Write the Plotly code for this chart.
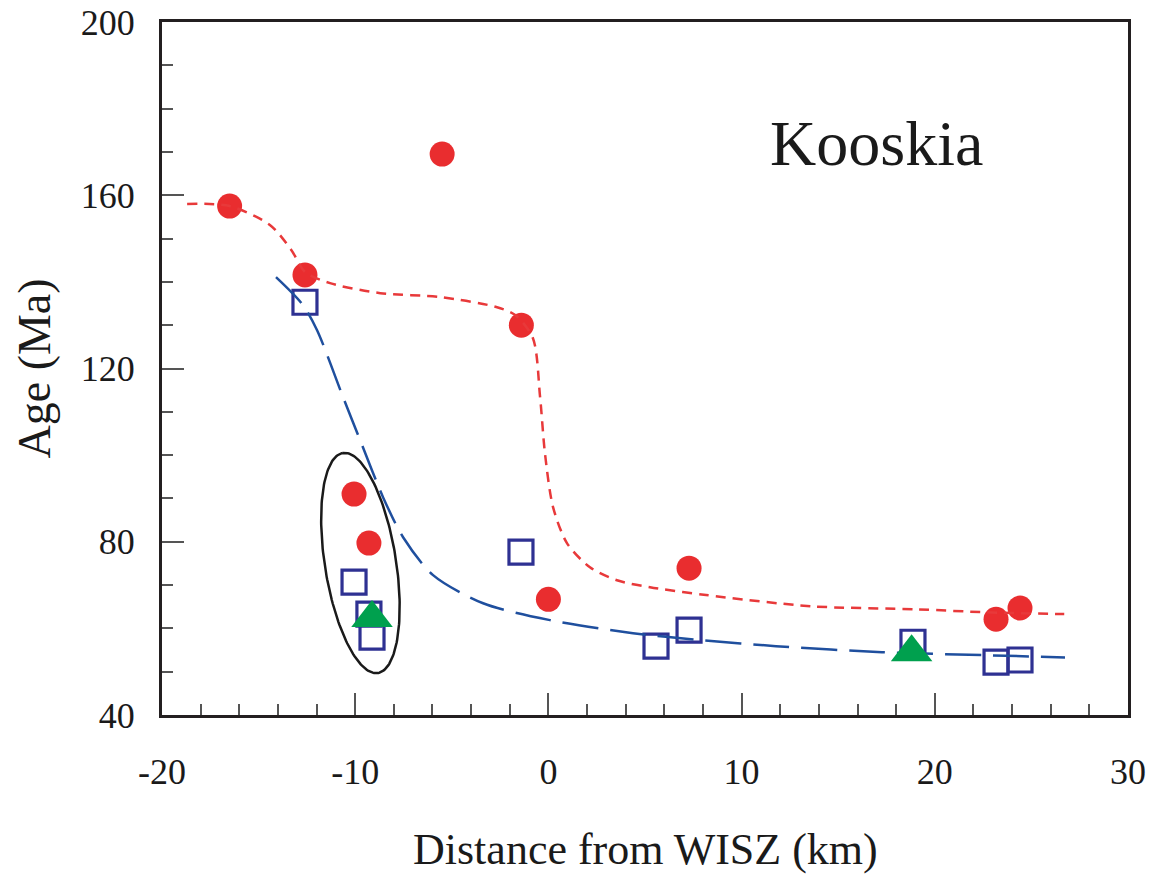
import numpy as np
import plotly.graph_objects as go

# ---- data ----
red_x = [-16.5, -12.6, -5.5, -1.4, -10.06, -9.29, 0.0, 7.28, 23.17, 24.41]
red_y = [157.5, 141.6, 169.5, 130.0, 91.0, 79.7, 66.7, 73.9, 62.1, 64.7]

sq_x = [-12.6, -10.06, -9.29, -9.13, -1.42, 5.57, 7.28, 18.87, 23.17, 24.41]
sq_y = [135.3, 70.7, 63.3, 58.0, 77.6, 55.9, 59.6, 56.8, 52.2, 52.7]

tri_x = [-9.13, 18.8]
tri_y = [62.4, 54.5]

red_curve_x = [-18.7, -16.5, -14.4, -13.3, -12.6, -11.3, -8.7, -5.6, -2.7, -1.7, -0.8,
               -0.43, -0.18, 0.24, 0.96, 2.15, 3.55, 5.26, 8.16, 13.6, 19.1, 22.7, 26.7]
red_curve_y = [158.0, 157.5, 153.1, 147.3, 142.3, 139.7, 137.4, 136.5, 134.2, 132.3, 127.0,
               113.4, 100.5, 88.0, 79.7, 74.1, 71.1, 69.5, 67.7, 65.1, 64.4, 63.7, 63.3]

blue_curve_x = [-14.1, -12.75, -11.98, -10.63, -9.6, -8.56, -7.53, -5.97, -3.38, 0.08,
                4.38, 7.85, 11.78, 17.27, 22.7, 26.74]
blue_curve_y = [141.1, 134.9, 128.9, 113.4, 101.8, 90.3, 81.1, 72.3, 65.8, 61.9,
                58.9, 57.3, 55.9, 54.5, 53.8, 53.3]

# ellipse outline (annotation shape): centre and two semi-axis vectors in data units
ell_center = (-9.73, 75.1)
ell_major = (-0.905, 25.4)
ell_minor = (1.82, 1.29)

x_ticks = [-20, -10, 0, 10, 20, 30]
y_ticks = [40, 80, 120, 160, 200]

FONT = "Liberation Serif"
AX = "#231f20"

t = np.linspace(0, 2 * np.pi, 200)
ell_x = ell_center[0] + np.cos(t) * ell_major[0] + np.sin(t) * ell_minor[0]
ell_y = ell_center[1] + np.cos(t) * ell_major[1] + np.sin(t) * ell_minor[1]

fig = go.Figure()
fig.add_trace(go.Scatter(x=ell_x, y=ell_y, mode="lines",
                         line=dict(color="#1a1a1a", width=2.5), hoverinfo="skip"))
fig.add_trace(go.Scatter(x=sq_x, y=sq_y, mode="markers",
                         marker=dict(symbol="square-open", size=24, color="#2e3192",
                                     line=dict(width=3.2, color="#2e3192"))))
fig.add_trace(go.Scatter(x=red_x, y=red_y, mode="markers",
                         marker=dict(symbol="circle", size=25, color="#e92d2f",
                                     line=dict(width=0))))
fig.add_trace(go.Scatter(x=red_curve_x, y=red_curve_y, mode="lines",
                         line=dict(color="#e8393a", width=2.5, dash="10px,7px",
                                   shape="spline", smoothing=0.8)))
fig.add_trace(go.Scatter(x=blue_curve_x, y=blue_curve_y, mode="lines",
                         line=dict(color="#1f4f9e", width=2.5, dash="36px,12px",
                                   shape="spline", smoothing=0.8)))
fig.add_trace(go.Scatter(x=tri_x, y=tri_y, mode="markers",
                         marker=dict(symbol="triangle-up", size=36, color="#00a04e",
                                     line=dict(width=0))))

fig.add_annotation(x=17.0, y=172.0, xref="x", yref="y", text="Kooskia", showarrow=False,
                   font=dict(family=FONT, size=64, color="#1a1a1a"))
fig.add_annotation(x=0.5, y=0, xref="paper", yref="paper", yanchor="middle", yshift=-134,
                   text="Distance from WISZ (km)", showarrow=False,
                   font=dict(family=FONT, size=44, color="#1a1a1a"))
fig.add_annotation(x=0, y=0.5, xref="paper", yref="paper", xanchor="center", xshift=-128,
                   text="Age (Ma)", textangle=-90, showarrow=False,
                   font=dict(family=FONT, size=46, color="#1a1a1a"))

fig.update_layout(
    width=1157, height=876,
    margin=dict(l=162, r=29, t=22, b=161),
    paper_bgcolor="white", plot_bgcolor="white",
    showlegend=False,
    font=dict(family=FONT, color="#1a1a1a"),
)
fig.update_xaxes(range=[-20, 30], tickvals=x_ticks, ticktext=[str(v) for v in x_ticks],
                 automargin=False,
                 showgrid=False, zeroline=False,
                 showline=True, linewidth=3, linecolor=AX, mirror=True,
                 ticks="inside", ticklen=22, tickwidth=1.5, tickcolor="#555",
                 ticklabelstandoff=23,
                 tickfont=dict(family=FONT, size=36, color="#1a1a1a"),
                 minor=dict(ticks="inside", dtick=2, tick0=0, ticklen=11,
                            tickwidth=1.5, tickcolor="#555", showgrid=False))
fig.update_yaxes(range=[40, 200], tickvals=y_ticks, ticktext=[str(v) for v in y_ticks],
                 automargin=False,
                 showgrid=False, zeroline=False,
                 showline=True, linewidth=3, linecolor=AX, mirror=True,
                 ticks="inside", ticklen=22, tickwidth=1.5, tickcolor="#555",
                 ticklabelstandoff=17,
                 tickfont=dict(family=FONT, size=36, color="#1a1a1a"),
                 minor=dict(ticks="inside", dtick=10, tick0=0, ticklen=11,
                            tickwidth=1.5, tickcolor="#555", showgrid=False))

fig.write_html("out.html")
